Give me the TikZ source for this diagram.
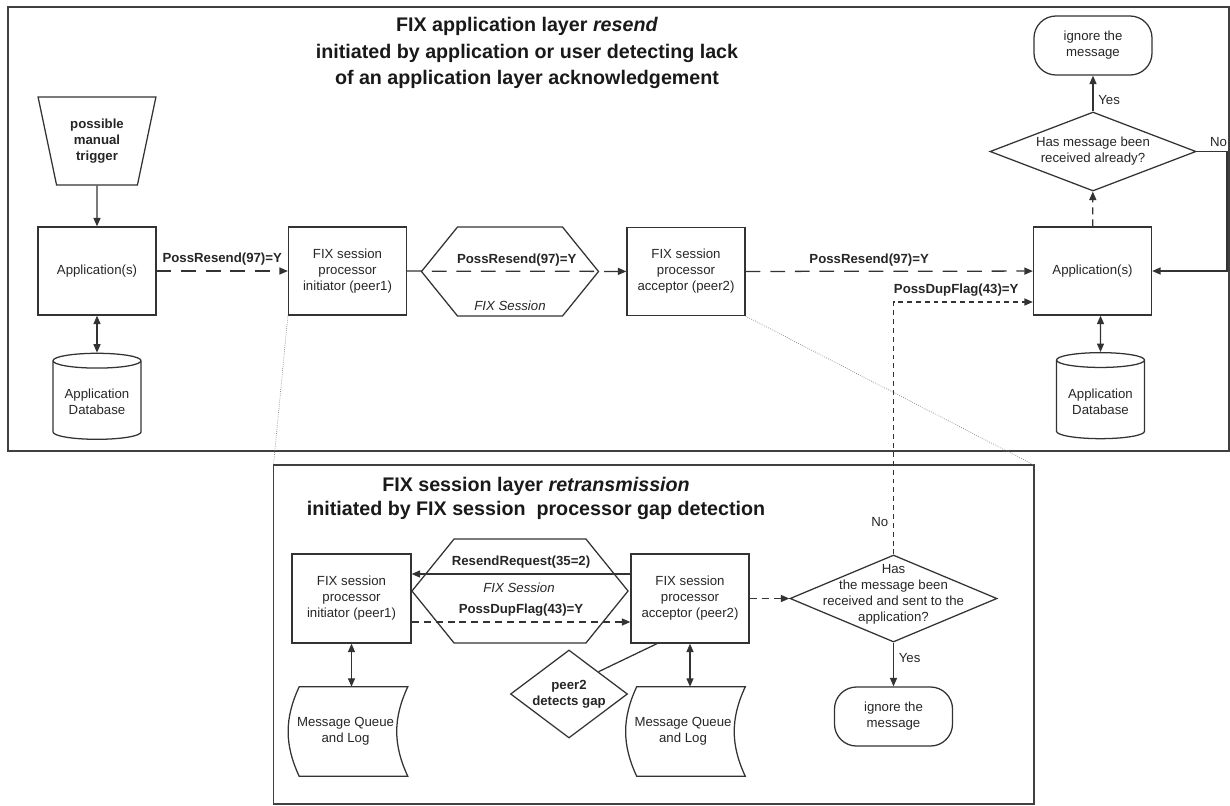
\documentclass[tikz,border=0pt]{standalone}
\usepackage{fontspec}
\setmainfont{Liberation Sans}
\usetikzlibrary{shapes.geometric,shapes.symbols,arrows.meta,positioning,calc}

\begin{document}
\begin{tikzpicture}[
    x=0.025cm, y=-0.025cm,
    every node/.style={text=black!85, font=\fontsize{9.4}{11.4}\selectfont},
    frame/.style={draw=black!75, line width=0.9pt},
    box/.style={rectangle, draw=black!80, line width=0.9pt, 
                minimum width=2.95cm, minimum height=2.2cm, 
                align=center, inner sep=2pt},
    manual/.style={trapezium, trapezium angle=75, trapezium stretches=true,
                   shape border rotate=180, draw=black!80, line width=0.9pt,
                   minimum width=2.95cm, minimum height=2.2cm,
                   align=center, font=\fontsize{9.4}{11.4}\selectfont\bfseries},
    dbase/.style={cylinder, shape border rotate=90, aspect=0.2, 
                  draw=black!80, line width=0.9pt,
                  minimum width=2.2cm, minimum height=2.15cm, align=center},
    session/.style={signal, signal to=east and west, signal pointer angle=102,
                    draw=black!80, line width=0.9pt, inner sep=0pt},
    decision/.style={diamond, draw=black!80, line width=0.9pt, inner sep=0pt},
    terminal/.style={rectangle, rounded corners=0.55cm, draw=black!80, line width=0.9pt,
                     minimum width=2.95cm, minimum height=1.475cm, align=center},
    queue/.style={rectangle, minimum width=2.7cm, minimum height=2.225cm, inner sep=0pt},
    outline/.style={draw=black!80, line width=0.9pt},
    title/.style={align=center, text=black!90},
    lbl/.style={font=\fontsize{9.4}{11.4}\selectfont\bfseries},
    sess/.style={font=\fontsize{9.4}{11.4}\selectfont\itshape},
    arrow/.style={-{Triangle[length=6pt,width=5pt]}, draw=black!80, line width=0.9pt},
    twoway/.style={{Triangle[length=6pt,width=5pt]}-{Triangle[length=6pt,width=5pt]}, 
                   draw=black!80, line width=0.9pt},
    longdash/.style={dash pattern=on 10.5pt off 7pt},
    meddash/.style={dash pattern=on 5pt off 3.5pt},
    shortdash/.style={dash pattern=on 3.5pt off 2.8pt},
    zoomline/.style={draw=black!50, densely dotted, line width=0.5pt}
]
    \useasboundingbox (0,0) rectangle (1230,805);

    % Frames
    \draw[frame] (8,7) rectangle (1229,451);
    \draw[frame] (273.5,465) rectangle (1034,804);
    \coordinate (f2nw) at (273.5,465);
    \coordinate (f2ne) at (1034,465);

    % Upper layer: application resend
    \node[title, font=\fontsize{14}{18.8}\selectfont\bfseries] (head1) at (527,53)
        {FIX application layer \textit{resend}\\initiated by application or user detecting lack\\of an application layer acknowledgement};
    \node[manual] (trig) at (97,141) {possible\\manual\\trigger};
    \node[box] (app1) at (97,271) {Application(s)};
    \node[dbase, below=0.925cm of app1] (db1) {Application\\Database};
    \node[box] (init1) at (347.5,271) {FIX session\\processor\\initiator (peer1)};
    \node[session, minimum width=4.425cm, minimum height=2.225cm] (sess1) at (510,271.5) {};
    \node[sess] (sess1txt) at (510,306) {FIX Session};
    \node[box] (acc1) at (686,271.5) {FIX session\\processor\\acceptor (peer2)};
    \node[box] (app2) at (1092.5,271) {Application(s)};
    \node[dbase, anchor=north] (db2) at (1100.5,352) {Application\\Database};
    \node[decision, minimum width=5.15cm, minimum height=1.975cm,
          label={[align=center]center:Has message been\\received already?}] (chk1) at (1093,151.5) {};
    \node[terminal] (ign1) at (1093,45.5) {ignore the\\message};
    \coordinate (noturn) at (1227,151.5);
    \coordinate (dupin) at ($(app2.west)+(0,31)$);

    \draw[arrow] (trig) -- (app1);
    \draw[twoway] (app1) -- (db1);
    \draw[arrow, longdash] (app1) -- node[above, lbl] {PossResend(97)=Y} (init1);
    \draw[arrow, longdash] (init1) -- node[above, lbl] {PossResend(97)=Y} (acc1);
    \draw[arrow, longdash] (acc1) -- node[above, lbl, pos=0.43] {PossResend(97)=Y} (app2);
    \draw[twoway] (app2.south -| db2) -- (db2);
    \draw[arrow, meddash] (app2) -- (chk1);
    \draw[arrow] (chk1) -- node[right, pos=0.32] {Yes} (ign1);
    \draw[arrow] (chk1.east) -- node[above, pos=0.72] {No} (noturn) |- (app2.east);

    % Zoom lines to the session layer
    \draw[zoomline] (init1.south west) -- (f2nw);
    \draw[zoomline] (acc1.south east) -- (f2ne);

    % Lower layer: session retransmission
    \node[title, font=\fontsize{14}{17}\selectfont\bfseries] (head2) at (536,498)
        {FIX session layer \textit{retransmission}\\initiated by FIX session\ \ processor gap detection};
    \node[box, minimum width=2.975cm, minimum height=2.225cm] (init2) at (351.5,598.5) {FIX session\\processor\\initiator (peer1)};
    \node[session, minimum width=5.4cm, minimum height=2.6cm] (sess2) at (520,591) {};
    \node[sess] (sess2txt) at (519,588) {FIX Session};
    \node[box, minimum width=2.95cm, minimum height=2.225cm] (acc2) at (690,598.5) {FIX session\\processor\\acceptor (peer2)};
    \node[decision, minimum width=2.925cm, minimum height=2.2cm,
          label={[align=center, lbl]center:peer2\\detects gap}] (gap) at (569,694) {};
    \node[queue, label={[align=center, xshift=-0.2cm]center:Message Queue\\and Log}] (q1) at (353.5,731.5) {};
    \node[queue, label={[align=center, xshift=-0.2cm]center:Message Queue\\and Log}] (q2) at (691,731.5) {};
    \node[decision, minimum width=5.175cm, minimum height=2.175cm,
          label={[align=center, yshift=0.1cm]center:Has\\the message been\\received and sent to the\\application?}] (chk2) at (893.5,598.5) {};
    \node[terminal] (ign2) at (893.5,716.5) {ignore the\\message};
    \coordinate (rr) at ($(acc2.west)+(0,-24.5)$);
    \coordinate (pd) at ($(init2.east)+(0,23.5)$);
    \coordinate (gapin) at ($(acc2.south)+(-33,0)$);

    % Stored data outlines
    \draw[outline] (q1.north west) to[bend right=25] (q1.south west) -- (q1.south east)
        to[bend left=25] (q1.north east) -- cycle;
    \draw[outline] (q2.north west) to[bend right=25] (q2.south west) -- (q2.south east)
        to[bend left=25] (q2.north east) -- cycle;

    \draw[arrow] (rr) -- node[above, lbl] {ResendRequest(35=2)} (rr -| init2.east);
    \draw[arrow, meddash] (pd) -- node[above, lbl] {PossDupFlag(43)=Y} (pd -| acc2.west);
    \draw[outline] (gap.north east) -- (gapin);
    \draw[twoway] (init2.south) -- (init2.south |- q1.north);
    \draw[twoway] (acc2.south) -- (acc2.south |- q2.north);
    \draw[arrow, meddash] (acc2) -- (chk2);
    \draw[arrow] (chk2) -- node[right, pos=0.36] {Yes} (ign2);
    \draw[arrow, shortdash] (chk2.north) -- node[left, pos=0.13] {No} (chk2.north |- dupin)
        -- node[above, lbl, pos=0.45] {PossDupFlag(43)=Y} (dupin);
\end{tikzpicture}
\end{document}
